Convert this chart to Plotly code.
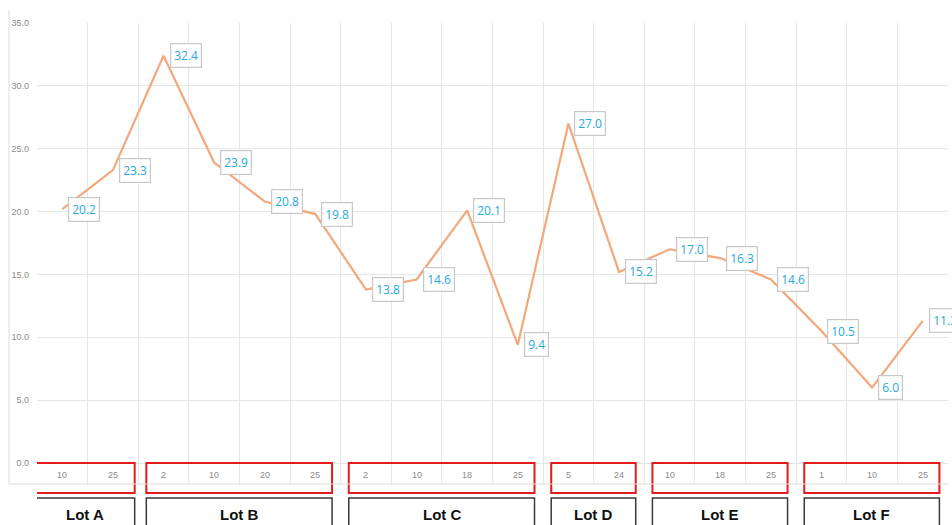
import plotly.graph_objects as go

# Measurements per lot, grouped by lot with the sampling day as sub-label
lots = ["Lot A", "Lot B", "Lot C", "Lot D", "Lot E", "Lot F"]
days = [
    ["10", "25"],
    ["2", "10", "20", "25"],
    ["2", "10", "18", "25"],
    ["5", "24"],
    ["10", "18", "25"],
    ["1", "10", "25"],
]
values = [
    20.2, 23.3,
    32.4, 23.9, 20.8, 19.8,
    13.8, 14.6, 20.1, 9.4,
    27.0, 15.2,
    17.0, 16.3, 14.6,
    10.5, 6.0, 11.3,
]

LINE = "#F4A77B"
LABEL_BLUE = "#26A9E0"
GRID = "#E6E6E6"

day_labels = [d for grp in days for d in grp]
xs = list(range(len(values)))

fig = go.Figure()
fig.add_trace(go.Scatter(
    x=xs, y=values, mode="lines",
    line=dict(color=LINE, width=2.2),
    hoverinfo="skip", showlegend=False,
))

annotations = []
# value labels to the right of each point
for x, v in zip(xs, values):
    annotations.append(dict(
        x=x, y=v, xref="x", yref="y", text=f"{v:.1f}",
        showarrow=False, xanchor="left", yanchor="middle", xshift=6,
        font=dict(family="Open Sans, sans-serif", size=12, color=LABEL_BLUE),
        bgcolor="white", bordercolor="#C8C8C8", borderwidth=1.2, borderpad=3,
    ))

# sub-category labels inside the axis band
for x, d in zip(xs, day_labels):
    annotations.append(dict(
        x=x, y=0, xref="x", yref="y", text=d, showarrow=False,
        yshift=-12, yanchor="middle",
        font=dict(family="Liberation Sans, Arial, sans-serif", size=9, color="#8A8A8A"),
    ))

shapes = []
start = 0
for i, (lot, grp) in enumerate(zip(lots, days)):
    end = start + len(grp) - 1
    left = start - 0.52 if i == 0 else start - 0.5 + 0.16
    right = end + 0.5 - (0.07 if i == 0 else 0.17)
    # red frame around the day labels
    shapes.append(dict(
        type="rect", xref="x", yref="paper", x0=left, x1=right,
        y0=-0.0195, y1=0.0456,
        line=dict(color="#E41B1B", width=2), fillcolor="rgba(0,0,0,0)",
    ))
    # dark frame around the lot name
    shapes.append(dict(
        type="rect", xref="x", yref="paper", x0=left, x1=right,
        y0=-0.12, y1=-0.0304,
        line=dict(color="#3A3A3A", width=1.5), fillcolor="white",
    ))
    annotations.append(dict(
        x=(left + right) / 2, y=-0.066, xref="x", yref="paper",
        text=f"<b>{lot}</b>", showarrow=False, yanchor="middle",
        font=dict(family="Liberation Sans, Arial, sans-serif", size=15, color="#111111"),
    ))
    start = end + 1

# faint outer frame of the axis area
shapes.append(dict(type="line", xref="paper", yref="paper",
                   x0=-28 / 911, x1=1.0, y0=0, y1=0,
                   line=dict(color="#DCDCDC", width=1)))
shapes.append(dict(type="line", xref="paper", yref="paper",
                   x0=-28 / 911, x1=-28 / 911, y0=0, y1=(484 - 10) / 461,
                   line=dict(color="#DCDCDC", width=1)))

fig.update_layout(
    width=952, height=525,
    margin=dict(l=37, r=4, t=23, b=41),
    plot_bgcolor="white", paper_bgcolor="white",
    xaxis=dict(
        range=[-0.5, len(values) - 0.5], tickmode="linear", tick0=-0.5, dtick=1,
        showticklabels=False, showgrid=True, gridcolor=GRID, gridwidth=1,
        zeroline=False, showline=False, ticks="",
    ),
    yaxis=dict(
        range=[-1.67, 35], tickmode="linear", tick0=0, dtick=5,
        tickformat=".1f", showgrid=True, gridcolor=GRID, gridwidth=1,
        zeroline=False, showline=False, ticks="", ticklabelstandoff=7,
        tickfont=dict(family="Liberation Sans, Arial, sans-serif", size=9, color="#8A8A8A"),
    ),
    annotations=annotations,
    shapes=shapes,
    showlegend=False,
)

fig.write_html("out.html")
